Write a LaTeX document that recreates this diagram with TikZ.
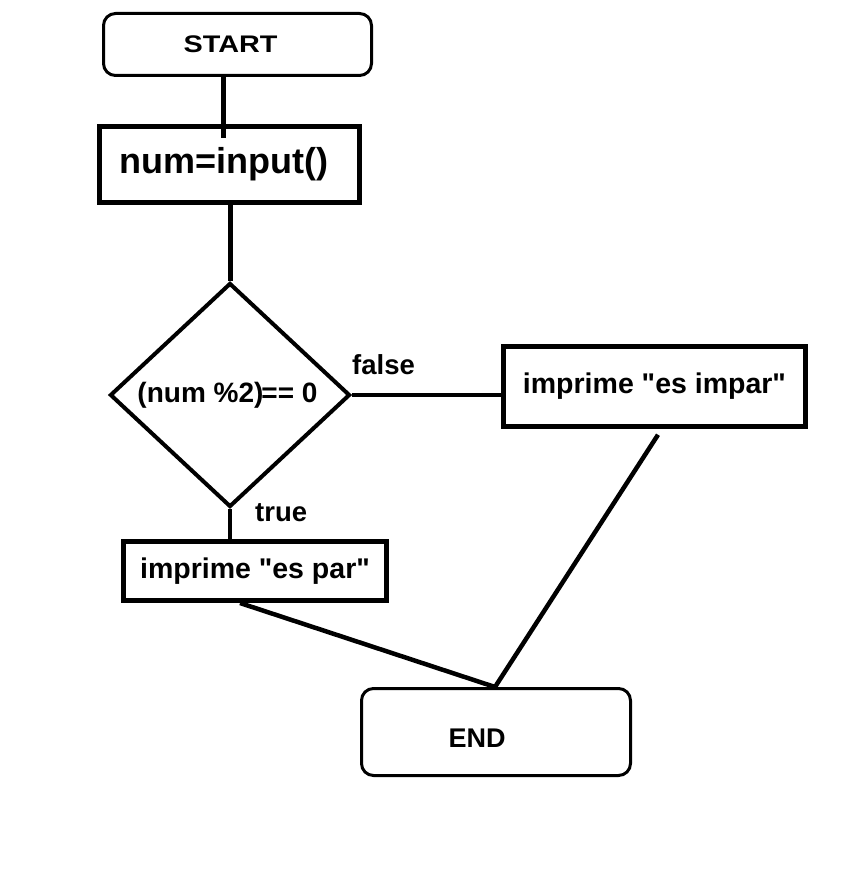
\documentclass[tikz,border=0pt]{standalone}
\usepackage{fontspec}
\usepackage{graphicx}
\setmainfont{Liberation Sans}
\usetikzlibrary{shapes.geometric,calc}

\begin{document}
\begin{tikzpicture}[x=1pt, y=-1pt,
        box/.style={draw, line width=5pt, inner sep=0pt, font=\bfseries},
        term/.style={draw, line width=3pt, rounded corners=12pt, inner sep=0pt, font=\bfseries},
        lbl/.style={inner sep=0pt, anchor=base west, font=\bfseries\fontsize{27.5}{33}\selectfont},
        link/.style={line width=4.5pt}]
        \useasboundingbox (0,0) rectangle (857,893);

        \node[term, minimum width=268pt, minimum height=62pt] (start) at (237.5,44.5)
            {\fontsize{24}{29}\selectfont\scalebox{1.2}[1]{START}\kern14pt};

        \node[box, minimum width=260pt, minimum height=76pt] (num) at (229.5,164.5)
            {\fontsize{36}{43}\selectfont num=input()\kern11pt};

        \node[draw, diamond, line width=4pt, inner sep=0pt, minimum width=240pt, minimum height=224pt,
            font=\bfseries\fontsize{28}{34}\selectfont] (dec) at (230,395)
            {(num \%2)\kern-2pt== 0\kern5pt};

        \node[box, line width=4.5pt, minimum width=302pt, minimum height=80pt] (impar) at (654.5,386.5)
            {\fontsize{28.5}{34}\selectfont imprime \textquotedbl es impar\textquotedbl};

        \node[box, minimum width=263pt, minimum height=59pt] (par) at (255,571)
            {\fontsize{28.5}{34}\selectfont imprime \textquotedbl es par\textquotedbl};

        \node[term, minimum width=269pt, minimum height=87pt] (end) at (496,732)
            {\fontsize{27}{32}\selectfont\rule{0pt}{31.5pt}END\kern38pt};

        \node[lbl] (f) at (352,374) {false};
        \node[lbl] (t) at (255,521) {true};

        \coordinate (tick) at (223,138);
        \coordinate (join) at ($(end.north)+(-1,0)$);

        \draw[link, line width=5pt] (start.south -| tick) -- (tick);
        \draw[link, line width=5pt] (num.south -| dec.north) -- (dec.north);
        \draw[link, line width=4pt] (dec.east) -- (dec.east -| impar.west);
        \draw[link, line width=4pt] (dec.south) -- (dec.south |- par.north);
        \draw[link] ($(par.south)+(-15,0)$) -- (join);
        \draw[link] ($(impar.south)+(3.5,6)$) -- (join);
    \end{tikzpicture}
\end{document}
